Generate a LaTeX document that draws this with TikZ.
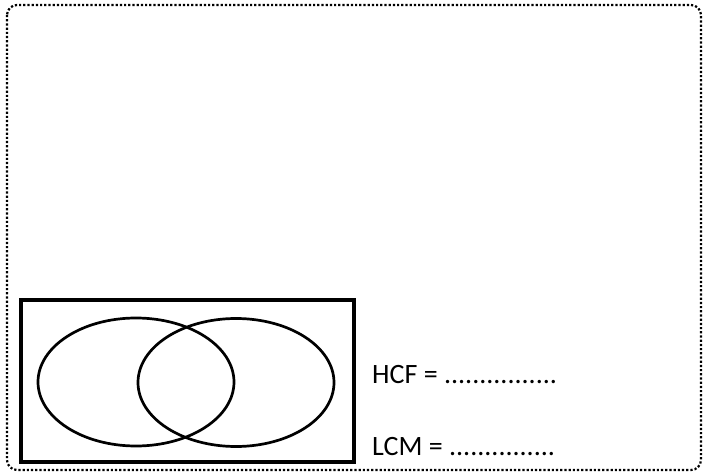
\documentclass[tikz,border=0pt]{standalone}
\usepackage{fontspec}
\setmainfont{Carlito}
\tikzset{
  frame/.style={line width=2.2pt, dash pattern=on 2.2pt off 2pt, rounded corners=10pt},
  venn/.style={line width=2.7pt},
  universe/.style={line width=3.8pt},
  answer/.style={anchor=base west, inner sep=0pt, font=\fontsize{28}{32}\selectfont}
}
\begin{document}
\begin{tikzpicture}[x=1pt,y=-1pt]
\useasboundingbox (0,0) rectangle (706,473);
\draw[frame] (7,5) rectangle (701,470);
\draw[universe] (21,300) rectangle (354,462);
\draw[venn] (136,382) ellipse [x radius=98, y radius=64];
\draw[venn] (236,382.5) ellipse [x radius=98, y radius=64];
\node[answer] (hcf) at (372,383) {HCF = ................};
\node[answer] (lcm) at (372,455) {LCM = ...............};
\end{tikzpicture}
\end{document}
